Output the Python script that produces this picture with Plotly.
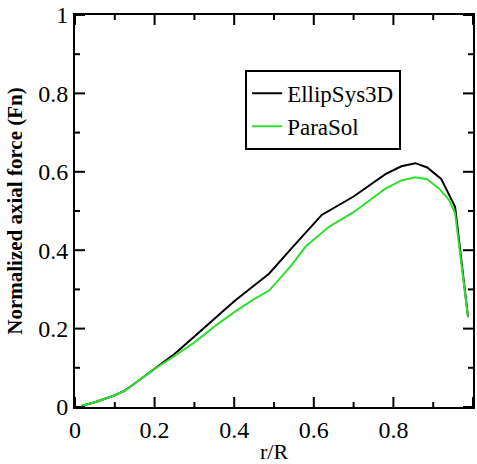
import plotly.graph_objects as go

r_ellip = [0.017, 0.05, 0.1, 0.125, 0.15, 0.2, 0.25, 0.3, 0.35, 0.4, 0.45, 0.4875, 0.54, 0.58, 0.62, 0.7, 0.78, 0.82, 0.855, 0.885, 0.92, 0.955, 0.9875]
fn_ellip = [0.003, 0.012, 0.03, 0.042, 0.06, 0.097, 0.135, 0.18, 0.225, 0.27, 0.31, 0.34, 0.40, 0.445, 0.49, 0.537, 0.594, 0.614, 0.622, 0.611, 0.582, 0.511, 0.229]

r_para = [0.017, 0.05, 0.1, 0.125, 0.15, 0.2, 0.25, 0.3, 0.35, 0.4, 0.45, 0.4875, 0.54, 0.58, 0.64, 0.7, 0.78, 0.82, 0.855, 0.885, 0.915, 0.94, 0.955, 0.9875]
fn_para = [0.003, 0.012, 0.03, 0.042, 0.06, 0.097, 0.13, 0.165, 0.205, 0.242, 0.275, 0.297, 0.357, 0.41, 0.461, 0.497, 0.557, 0.578, 0.586, 0.581, 0.557, 0.528, 0.494, 0.229]

major_ticks = [0, 0.2, 0.4, 0.6, 0.8, 1]
minor_ticks = [0.1, 0.3, 0.5, 0.7, 0.9]
AX_MIN, AX_MAX = 0, 1

FONT = "Liberation Serif, Times New Roman, serif"

fig = go.Figure()
fig.add_trace(go.Scatter(x=r_ellip, y=fn_ellip, mode="lines", name="EllipSys3D",
                         line=dict(color="black", width=2)))
fig.add_trace(go.Scatter(x=r_para, y=fn_para, mode="lines", name="ParaSol",
                         line=dict(color="#2ee02e", width=2)))

# inward tick marks on all four frame sides, placed at the tick values via the axes
tick_line = dict(color="black", width=2)
for ticks, length in ((major_ticks, 10), (minor_ticks, 5)):
    for t in ticks:
        # bottom (pointing up) and top (pointing down)
        fig.add_shape(type="line", xref="x", yref="paper", ysizemode="pixel", yanchor=0,
                      x0=t, x1=t, y0=0, y1=length, line=tick_line, layer="above")
        fig.add_shape(type="line", xref="x", yref="paper", ysizemode="pixel", yanchor=1,
                      x0=t, x1=t, y0=0, y1=-length, line=tick_line, layer="above")
        # left (pointing right) and right (pointing left)
        fig.add_shape(type="line", yref="y", xref="paper", xsizemode="pixel", xanchor=0,
                      y0=t, y1=t, x0=0, x1=length, line=tick_line, layer="above")
        fig.add_shape(type="line", yref="y", xref="paper", xsizemode="pixel", xanchor=1,
                      y0=t, y1=t, x0=0, x1=-length, line=tick_line, layer="above")

fig.update_layout(
    width=477, height=464,
    margin=dict(l=75, r=2, t=14, b=49),
    paper_bgcolor="white", plot_bgcolor="white",
    font=dict(family=FONT, color="black", size=22),
    xaxis=dict(range=[AX_MIN, AX_MAX], tickvals=major_ticks, showgrid=False, zeroline=False,
               showline=True, linecolor="black", linewidth=2, mirror=True, ticks="",
               tickfont=dict(family=FONT, size=24, color="black"),
               title=dict(text="r/R", font=dict(family=FONT, size=22), standoff=4)),
    yaxis=dict(range=[AX_MIN, AX_MAX], tickvals=major_ticks, showgrid=False, zeroline=False,
               showline=True, linecolor="black", linewidth=2, mirror=True, ticks="",
               tickfont=dict(family=FONT, size=24, color="black"),
               title=dict(text="<b>Normalized axial force (Fn)</b>", font=dict(family=FONT, size=21), standoff=10)),
    legend=dict(x=0.4275, y=0.86, xanchor="left", yanchor="top",
                bordercolor="black", borderwidth=2, bgcolor="white",
                font=dict(family=FONT, size=23), tracegroupgap=0),
    showlegend=True,
)

fig.write_html("out.html")
